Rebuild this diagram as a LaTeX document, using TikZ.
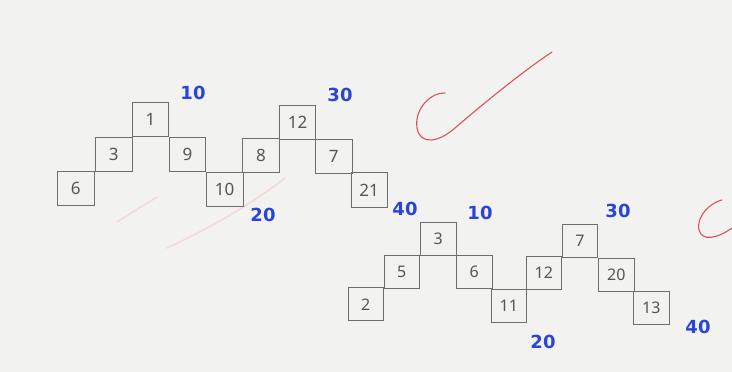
\documentclass[tikz,border=0pt]{standalone}
\usepackage{fontspec}
\setmainfont{Noto Sans}
\newfontfamily\tallyfont{DejaVu Sans}
\definecolor{paper}{HTML}{F2F2F0}
\definecolor{boxline}{HTML}{6E6E6E}
\definecolor{pencil}{HTML}{555555}
\definecolor{inkblue}{HTML}{2A44DA}
\definecolor{inkred}{HTML}{E0505A}
\definecolor{faintred}{HTML}{F2CDD0}
\tikzset{
  cellA/.style={draw=boxline, line width=0.8pt, minimum width=36.6pt, minimum height=34.3pt, inner sep=0pt, text=pencil, font=\fontsize{17}{17}\selectfont},
  cellB/.style={draw=boxline, line width=0.8pt, minimum width=35.6pt, minimum height=33pt, inner sep=0pt, text=pencil, font=\fontsize{16}{16}\selectfont},
  tally/.style={text=inkblue, font=\tallyfont\fontsize{18}{18}\selectfont\bfseries, inner sep=0pt},
  tick/.style={draw=inkred, line width=1.1pt, line cap=round, line join=round},
  smudge/.style={draw=faintred, line width=1.4pt, line cap=round, opacity=0.7}
}
\begin{document}
\begin{tikzpicture}[x=1pt, y=-1pt]
\fill[paper] (0,0) rectangle (732,372);
\useasboundingbox (0,0) rectangle (732,372);

% faint red smudges
\draw[smudge] (117,222) -- (157,197);
\draw[smudge] (167,248) .. controls (210,228) and (250,205) .. (285,178);

% first puzzle
\node[cellA] (a1) at (75.8,188.3) {6};
\node[cellA] (a2) at (113.8,154.2) {3};
\node[cellA] (a3) at (150.5,119.6) {1};
\node[cellA] (a4) at (187.5,154.2) {9};
\node[cellA] (a5) at (224.7,189.2) {10};
\node[cellA] (a6) at (261.0,155.5) {8};
\node[cellA] (a7) at (297.5,122.2) {12};
\node[cellA] (a8) at (333.7,156.3) {7};
\node[cellA] (a9) at (369.2,190.0) {21};

\node[tally] (t1) at (193,93) {10};
\node[tally] (t2) at (340,95) {30};
\node[tally] (t3) at (263,215) {20};
\node[tally] (t4) at (405,209) {40};

% second puzzle
\node[cellB] (b1) at (365.8,304.3) {2};
\node[cellB] (b2) at (401.7,271.6) {5};
\node[cellB] (b3) at (438.3,239.2) {3};
\node[cellB] (b4) at (474.2,272.0) {6};
\node[cellB] (b5) at (508.8,305.7) {11};
\node[cellB] (b6) at (543.8,272.8) {12};
\node[cellB] (b7) at (580.0,241.2) {7};
\node[cellB] (b8) at (616.3,274.5) {20};
\node[cellB] (b9) at (651.3,307.8) {13};

\node[tally] (u1) at (480,213) {10};
\node[tally] (u2) at (618,211) {30};
\node[tally] (u3) at (543,342) {20};
\node[tally] (u4) at (698,327) {40};

% red check marks
\draw[tick] (445,93) .. controls (432,92) and (414,108) .. (417,128)
            .. controls (420,145) and (438,143) .. (455,128)
            .. controls (490,98) and (525,70) .. (552,52);
\draw[tick] (722,200) .. controls (712,202) and (696,215) .. (699,230)
            .. controls (702,242) and (718,238) .. (732,228);
\end{tikzpicture}
\end{document}
